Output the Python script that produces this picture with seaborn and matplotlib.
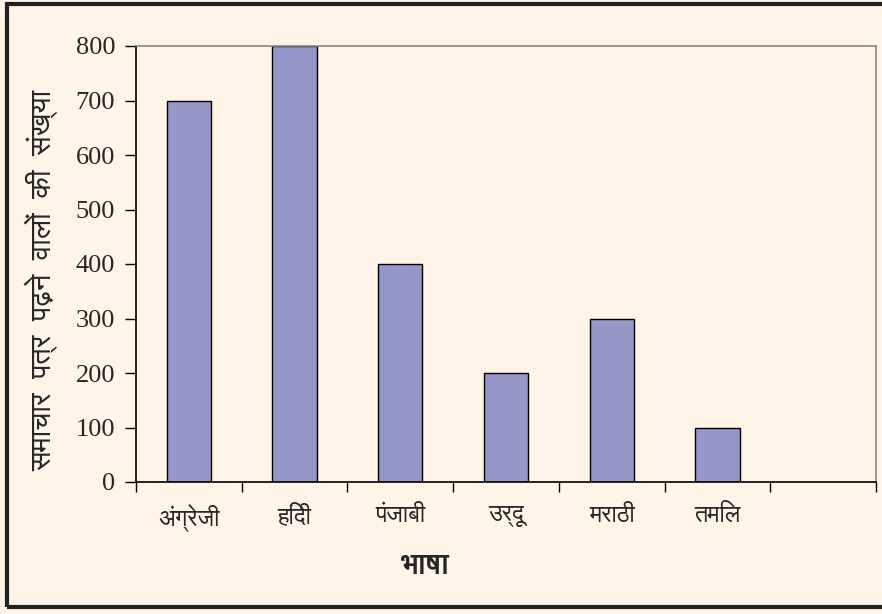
import matplotlib
matplotlib.use("Agg")
import matplotlib.pyplot as plt
from matplotlib import font_manager
from matplotlib.patches import Rectangle
import seaborn as sns
import pandas as pd

# data
languages = ["अंग्रेजी", "हिंदी", "पंजाबी", "उर्दू", "मराठी", "तमिल"]
readers = [700, 800, 400, 200, 300, 100]
y_ticks = [0, 100, 200, 300, 400, 500, 600, 700, 800]
n_slots = 7  # the chart leaves one empty category slot at the end

bg = "#FEF5E8"
bar_color = "#9696C8"

sns.set_theme(style="white")

# look for any installed font that covers Devanagari
deva = []
for f in font_manager.fontManager.ttflist:
    if any(k in f.name for k in ("Devanagari", "Lohit", "Mukta", "Hind", "FreeSans", "Mangal", "Gargi")):
        if f.name not in deva:
            deva.append(f.name)
text_fonts = deva + ["Noto Sans", "DejaVu Sans"]
num_fonts = ["Liberation Serif", "DejaVu Serif"]
plt.rcParams["font.family"] = text_fonts

df = pd.DataFrame({"language": languages, "readers": readers})

fig, ax = plt.subplots(figsize=(8.82, 6.14), dpi=100)
fig.patch.set_facecolor(bg)
ax.set_facecolor(bg)
fig.subplots_adjust(left=136 / 882, right=876 / 882, top=1 - 46 / 614, bottom=1 - 482 / 614)

sns.barplot(data=df, x="language", y="readers", color=bar_color, width=0.42,
            edgecolor="black", linewidth=1.0, saturation=1, ax=ax)

ax.set_xlim(-0.5, n_slots - 0.5)
ax.set_ylim(0, 800)
ax.set_yticks(y_ticks)
ax.set_yticklabels([str(v) for v in y_ticks], family=num_fonts, fontsize=19)

# slot boundaries get the tick marks, centres get the labels
ax.set_xticks([i - 0.5 for i in range(n_slots + 1)])
ax.set_xticklabels([])
ax.set_xticks(range(len(languages)), minor=True)
ax.set_xticklabels(languages, minor=True, fontsize=17, family=text_fonts)
ax.tick_params(axis="x", which="major", direction="out", length=7, width=1, color="black", bottom=True)
ax.tick_params(axis="x", which="minor", length=0, pad=16)
ax.tick_params(axis="y", direction="out", length=8, width=1, color="black", left=True, pad=7)

for s in ("left", "bottom"):
    ax.spines[s].set_color("black")
    ax.spines[s].set_linewidth(1.2)
for s in ("top", "right"):
    ax.spines[s].set_color("#888888")
    ax.spines[s].set_linewidth(1.2)

ax.set_xlabel("भाषा", fontsize=21, fontweight="bold", family=text_fonts)
ax.xaxis.set_label_coords((425 - 136) / 740, -(552 - 482) / 436)
ax.set_ylabel("समाचार  पत्र  पढ़ने  वालों  की  संख्या", fontsize=21, family=text_fonts)
ax.yaxis.set_label_coords(-(136 - 58) / 740, (482 - 280) / 436)

# outer frame of the figure (right edge falls outside the picture)
fig.patches.append(Rectangle((7 / 882, 1 - 607 / 614), 1.0, 603 / 614, transform=fig.transFigure,
                             fill=False, edgecolor="#222222", linewidth=3))

fig.savefig("out.png", dpi=100, facecolor=bg)
